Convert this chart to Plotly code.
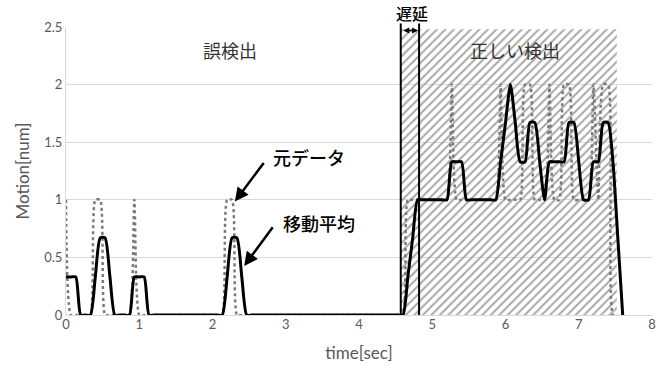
import plotly.graph_objects as go

sample_rate_hz = 15

raw_data = [
    1, 0, 0, 0, 0, 0, 1, 1, 0, 0,
    0, 0, 0, 0, 1, 0, 0, 0, 0, 0,
    0, 0, 0, 0, 0, 0, 0, 0, 0, 0,
    0, 0, 0, 1, 1, 0, 0, 0, 0, 0,
    0, 0, 0, 0, 0, 0, 0, 0, 0, 0,
    0, 0, 0, 0, 0, 0, 0, 0, 0, 0,
    0, 0, 0, 0, 0, 0, 0, 0, 0, 0,
    1, 1, 1, 1, 1, 1, 1, 1, 1, 2,
    1, 1, 1, 1, 1, 1, 1, 1, 1, 2,
    1, 1, 1, 1, 2, 2, 1, 1, 1, 2,
    1, 1, 2, 2, 1, 1, 1, 1, 2, 1,
    2, 2, 0, 0,
]

moving_avg = [
    0.33, 0.33, 0.33, 0, 0, 0, 0.33, 0.67, 0.67, 0.33,
    0, 0, 0, 0, 0.33, 0.33, 0.33, 0, 0, 0,
    0, 0, 0, 0, 0, 0, 0, 0, 0, 0,
    0, 0, 0, 0.33, 0.67, 0.67, 0.33, 0, 0, 0,
    0, 0, 0, 0, 0, 0, 0, 0, 0, 0,
    0, 0, 0, 0, 0, 0, 0, 0, 0, 0,
    0, 0, 0, 0, 0, 0, 0, 0, 0, 0,
    0.33, 0.67, 1, 1, 1, 1, 1, 1, 1, 1.33,
    1.33, 1.33, 1, 1, 1, 1, 1, 1, 1, 1.33,
    1.67, 2, 1.67, 1.33, 1.33, 1.67, 1.67, 1.33, 1, 1.33,
    1.33, 1.33, 1.33, 1.67, 1.67, 1.33, 1, 1, 1.33, 1.33,
    1.67, 1.67, 1.33, 0.67, 0,
]

t_raw = [round(i / sample_rate_hz, 4) for i in range(len(raw_data))]
t_avg = [round(i / sample_rate_hz, 4) for i in range(len(moving_avg))]

# annotated intervals
delay_start = 4.57
delay_end = 4.82
correct_end = 7.52
correct_top = 2.48

x_ticks = [0, 1, 2, 3, 4, 5, 6, 7, 8]
y_ticks = [0, 0.5, 1, 1.5, 2, 2.5]

GREY = "#595959"
TICKFONT = dict(family="Lato, Liberation Sans, sans-serif", size=13, color=GREY)
JP = "Noto Sans CJK JP, sans-serif"

fig = go.Figure()

# hatched "correct detection" region
fig.add_trace(go.Scatter(
    x=[delay_start, correct_end, correct_end, delay_start, delay_start],
    y=[0, 0, correct_top, correct_top, 0],
    mode="lines", line=dict(width=0, color="rgba(0,0,0,0)"),
    fill="toself", fillcolor="rgba(0,0,0,0)",
    fillpattern=dict(shape="/", fgcolor="#a6a6a6", bgcolor="rgba(0,0,0,0)",
                     size=6, solidity=0.32, fillmode="replace"),
    hoverinfo="skip", showlegend=False,
))

fig.add_trace(go.Scatter(
    x=t_raw, y=raw_data, mode="lines", name="元データ",
    line=dict(color="#7a7a7a", width=2.5, dash="dot", shape="spline", smoothing=0.6),
    showlegend=False,
))
fig.add_trace(go.Scatter(
    x=t_avg, y=moving_avg, mode="lines", name="移動平均",
    line=dict(color="black", width=3, shape="spline", smoothing=0.6),
    showlegend=False,
))

# delay boundary lines (extend slightly above plot)
for xv in (delay_start, delay_end):
    fig.add_shape(type="line", xref="x", yref="paper", x0=xv, x1=xv, y0=0, y1=1.012,
                  line=dict(color="black", width=2))

annotations = [
    dict(x=2.24, y=2.30, text="誤検出", showarrow=False,
         font=dict(family=JP, size=18, color="#333333")),
    dict(x=6.13, y=2.30, text="正しい検出", showarrow=False,
         font=dict(family=JP, size=18, color="#333333")),
    dict(x=3.32, y=1.37, text="元データ", showarrow=False,
         font=dict(family=JP, size=18, color="black", weight=500)),
    dict(x=3.46, y=0.80, text="移動平均", showarrow=False,
         font=dict(family=JP, size=18, color="black", weight=500)),
    dict(x=4.72, y=1.047, xref="x", yref="paper", text="遅延", showarrow=False,
         font=dict(family=JP, size=16, color="black", weight=500)),
    # arrows
    dict(x=2.305, y=0.985, ax=2.715, ay=1.333, axref="x", ayref="y", text="",
         showarrow=True, arrowhead=2, arrowsize=1.1, arrowwidth=2.5, arrowcolor="black"),
    dict(x=2.432, y=0.426, ax=2.838, ay=0.774, axref="x", ayref="y", text="",
         showarrow=True, arrowhead=2, arrowsize=1.1, arrowwidth=2.5, arrowcolor="black"),
    dict(x=delay_end, y=2.47, ax=delay_start, ay=2.47, axref="x", ayref="y", text="",
         showarrow=True, arrowhead=2, startarrowhead=2, arrowside="end+start",
         arrowsize=0.8, startarrowsize=0.8, arrowwidth=1.5, arrowcolor="black",
         standoff=1, startstandoff=1),
]
for a in annotations:
    a.setdefault("xref", "x")
    a.setdefault("yref", "y")
    a.setdefault("xanchor", "center")
    a.setdefault("yanchor", "middle")
    fig.add_annotation(**a)

fig.update_layout(
    width=666, height=369,
    margin=dict(l=66, r=14, t=27, b=54, autoexpand=False),
    paper_bgcolor="white", plot_bgcolor="white",
    showlegend=False,
)
fig.update_xaxes(
    range=[0, 8], tickvals=x_ticks, ticktext=[str(v) for v in x_ticks],
    showgrid=False, zeroline=False, showline=False, ticks="",
    tickfont=TICKFONT, automargin=False,
    title=dict(text="time[sec]", font=dict(family="Lato, sans-serif", size=17, color=GREY), standoff=16),
)
fig.update_yaxes(
    range=[0, 2.5], tickvals=y_ticks, ticktext=["0", "0.5", "1", "1.5", "2", "2.5"],
    showgrid=True, gridcolor="#d9d9d9", gridwidth=1,
    zeroline=True, zerolinecolor="#d9d9d9", zerolinewidth=1,
    showline=True, linecolor="#d9d9d9", linewidth=1, ticks="",
    tickfont=TICKFONT, automargin=False,
    title=dict(text="Motion[num]", font=dict(family="Lato, sans-serif", size=17, color=GREY), standoff=10),
)

# remove the browser's default 8px page margin so the figure fills the window
fig.write_html(
    "out.html",
    config={"displayModeBar": False},
    post_script="document.body.style.margin='0';document.body.style.padding='0';",
)
